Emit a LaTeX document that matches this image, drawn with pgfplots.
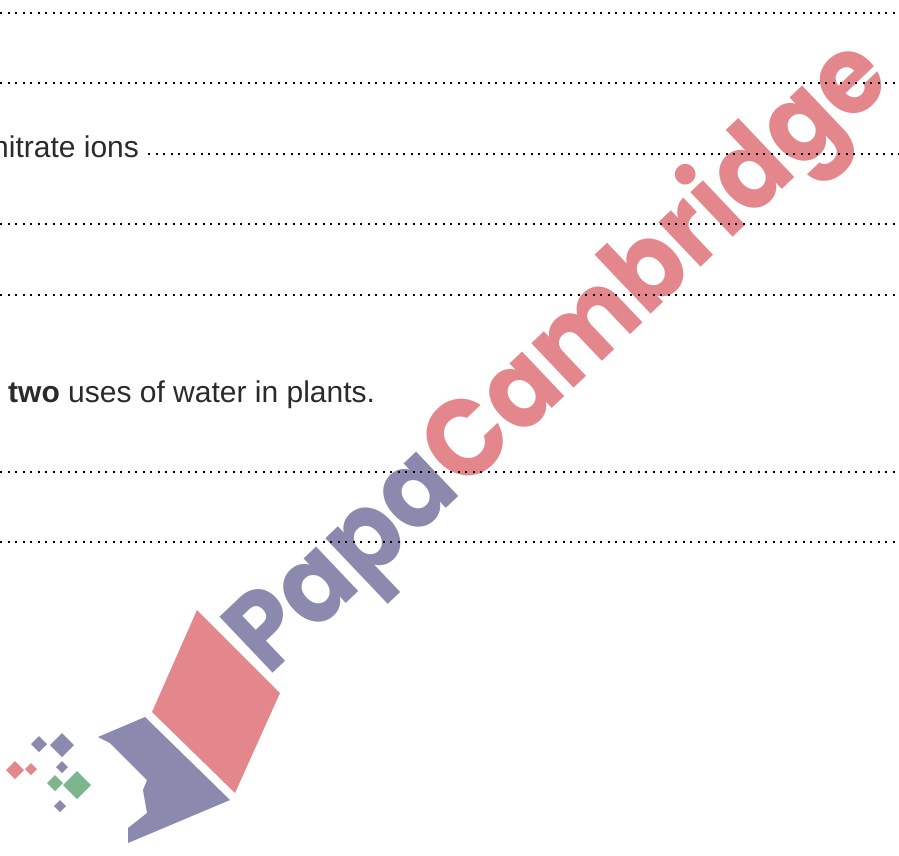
\documentclass[border=0pt]{standalone}
\usepackage{pgfplots}
\pgfplotsset{compat=1.18}
\usepackage{fontspec}
\setmainfont{Liberation Sans}
\newfontfamily\wmfont{Poppins}[FakeStretch=0.92]
\definecolor{txt}{HTML}{2A2A2A}
\definecolor{wmpurple}{HTML}{8B89AE}
\definecolor{wmpink}{HTML}{E4878C}
\definecolor{wmgreen}{HTML}{7DB58E}
\begin{document}
\begin{tikzpicture}
\begin{axis}[scale only axis, width=899pt, height=855pt,
  xmin=0, xmax=899, ymin=0, ymax=855, y dir=reverse,
  hide axis, clip=true]
% bounding
\addplot[draw=none, forget plot] coordinates {(0,0) (899,855)};
% watermark text
\node[rotate=43.5, anchor=base west, inner sep=0pt] at (axis cs:268,678)
  {\wmfont\bfseries\fontsize{110}{118}\selectfont\color{wmpurple}Papa\color{wmpink}Cambridge};
% logo: red parallelogram
\addplot[fill=wmpink, draw=none] coordinates {(197,610) (280,693) (235,793) (152,712)} -- cycle;
% logo: purple lower shape
\addplot[fill=wmpurple, draw=none] coordinates {(98,737) (145,717) (230,800) (128,843) (128,828) (147,813) (143,790) (147,780) (127,760) (110,743)} -- cycle;
% small diamonds
\addplot[fill=wmpurple, draw=none] coordinates {(39,736) (47,744) (39,752) (31,744)} -- cycle;
\addplot[fill=wmpurple, draw=none] coordinates {(62,733) (74,745) (62,757) (50,745)} -- cycle;
\addplot[fill=wmpurple, draw=none] coordinates {(62,761) (68,767) (62,773) (56,767)} -- cycle;
\addplot[fill=wmpink, draw=none] coordinates {(15,761) (24,770) (15,779) (6,770)} -- cycle;
\addplot[fill=wmpink, draw=none] coordinates {(31,763) (37,769) (31,775) (25,769)} -- cycle;
\addplot[fill=wmgreen, draw=none] coordinates {(55,775) (63,783) (55,791) (47,783)} -- cycle;
\addplot[fill=wmgreen, draw=none] coordinates {(77,771) (91,785) (77,799) (63,785)} -- cycle;
\addplot[fill=wmpurple, draw=none] coordinates {(60,800) (66,806) (60,812) (54,806)} -- cycle;
% dotted answer lines
\addplot[color=black, line width=2.6pt, dash pattern=on 2.4pt off 5.1pt] coordinates {(0,13) (899,13)};
\addplot[color=black, line width=2.6pt, dash pattern=on 2.4pt off 5.1pt] coordinates {(0,83) (899,83)};
\addplot[color=black, line width=2.6pt, dash pattern=on 2.4pt off 5.1pt] coordinates {(148,154) (899,154)};
\addplot[color=black, line width=2.6pt, dash pattern=on 2.4pt off 5.1pt] coordinates {(0,224) (899,224)};
\addplot[color=black, line width=2.6pt, dash pattern=on 2.4pt off 5.1pt] coordinates {(0,295) (899,295)};
\addplot[color=black, line width=2.6pt, dash pattern=on 2.4pt off 5.1pt] coordinates {(0,472) (899,472)};
\addplot[color=black, line width=2.6pt, dash pattern=on 2.4pt off 5.1pt] coordinates {(0,542) (899,542)};
% texts
\node[anchor=base west, inner sep=0pt, text=txt] at (axis cs:-8,157)
  {\fontsize{30}{36}\selectfont nitrate ions};
\node[anchor=base west, inner sep=0pt, text=txt] at (axis cs:8,402)
  {\fontsize{30}{36}\selectfont\textbf{two} uses of water in plants.};
\end{axis}
\end{tikzpicture}
\end{document}
